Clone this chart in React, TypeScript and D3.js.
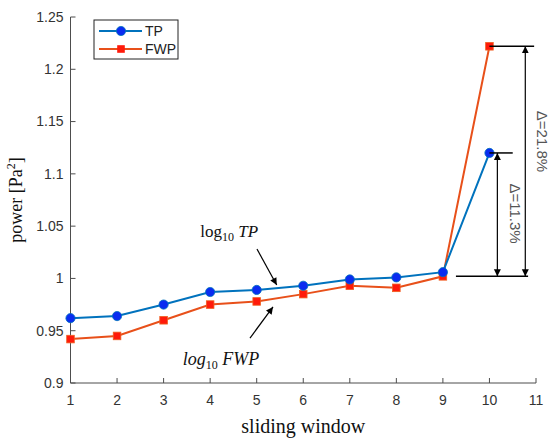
import React from 'react';
import * as d3 from 'd3';

// sliding window index and the two power series
const windows = [1, 2, 3, 4, 5, 6, 7, 8, 9, 10];
const tpValues = [0.962, 0.964, 0.975, 0.987, 0.989, 0.993, 0.999, 1.001, 1.006, 1.120];
const fwpValues = [0.942, 0.945, 0.960, 0.975, 0.978, 0.985, 0.993, 0.991, 1.002, 1.222];
const xTicks = [1, 2, 3, 4, 5, 6, 7, 8, 9, 10, 11];
const yTicks = [0.9, 0.95, 1, 1.05, 1.1, 1.15, 1.2, 1.25];
const seriesNames = ['TP', 'FWP'];
const deltaLabels = ['Δ=11.3%', 'Δ=21.8%'];

const width = 550;
const height = 445;
const margin = { top: 17, right: 14, bottom: 62, left: 70.5 };

const TP_LINE = '#0072BD';
const TP_MARK = '#0a2cf0';
const FWP_LINE = '#E8501A';
const FWP_MARK = '#ff1a0a';
const AXIS = '#4d4d4d';
const TICK_TEXT = '#333';

export default function App() {
    const x = d3.scaleLinear().domain([1, 11]).range([margin.left, width - margin.right]);
    const y = d3.scaleLinear().domain([0.9, 1.25]).range([height - margin.bottom, margin.top]);
    const fmt = d3.format('~g');

    const line = d3.line<number>()
        .x((_, i) => x(windows[i]))
        .y(d => y(d));

    const baseY = y(fwpValues[8]);
    const tpTop = y(tpValues[9]);
    const fwpTop = y(fwpValues[9]);

    return (
        <div style={{ position: 'absolute', left: 0, top: 0 }}>
            <svg width={width} height={height} style={{ display: 'block', background: '#fff' }}>
                <defs>
                    <marker id="head" viewBox="0 0 10 10" refX="10" refY="5"
                        markerWidth="7" markerHeight="8" markerUnits="userSpaceOnUse"
                        orient="auto-start-reverse">
                        <path d="M0,0 L10,5 L0,10 Z" fill="#000" />
                    </marker>
                    <marker id="head2" viewBox="0 0 10 10" refX="10" refY="5"
                        markerWidth="9" markerHeight="7" markerUnits="userSpaceOnUse"
                        orient="auto-start-reverse">
                        <path d="M0,0 L10,5 L0,10 Z" fill="#000" />
                    </marker>
                </defs>

                {/* axes */}
                <line x1={margin.left} x2={margin.left} y1={margin.top} y2={height - margin.bottom} stroke={AXIS} strokeWidth={1} />
                <line x1={margin.left} x2={width - margin.right} y1={height - margin.bottom} y2={height - margin.bottom} stroke={AXIS} strokeWidth={1} />

                {yTicks.map(t => (
                    <g key={'y' + t}>
                        <line x1={margin.left} x2={margin.left + 5} y1={y(t)} y2={y(t)} stroke={AXIS} />
                        <text x={margin.left - 7} y={y(t)} dy="0.35em" textAnchor="end"
                            fontFamily="Liberation Sans, Arial, sans-serif" fontSize={14} fill={TICK_TEXT}>{fmt(t)}</text>
                    </g>
                ))}
                {xTicks.map(t => (
                    <g key={'x' + t}>
                        <line x1={x(t)} x2={x(t)} y1={height - margin.bottom} y2={height - margin.bottom - 5} stroke={AXIS} />
                        <text x={x(t)} y={height - margin.bottom + 22} textAnchor="middle"
                            fontFamily="Liberation Sans, Arial, sans-serif" fontSize={14} fill={TICK_TEXT}>{t}</text>
                    </g>
                ))}

                <text transform={`translate(22,${(margin.top + height - margin.bottom) / 2}) rotate(-90)`}
                    textAnchor="middle" fontFamily="Liberation Serif, Times New Roman, serif" fontSize={18} fill="#111">
                    power [Pa<tspan dy="-7" fontSize={12}>2</tspan><tspan dy="7">]</tspan>
                </text>
                <text x={(margin.left + width - margin.right) / 2} y={433} textAnchor="middle"
                    fontFamily="Liberation Serif, Times New Roman, serif" fontSize={20} fill="#111">sliding window</text>

                {/* series */}
                <path d={line(fwpValues) ?? ''} fill="none" stroke={FWP_LINE} strokeWidth={2} />
                <path d={line(tpValues) ?? ''} fill="none" stroke={TP_LINE} strokeWidth={2} />
                {fwpValues.map((v, i) => (
                    <rect key={'f' + i} x={x(windows[i]) - 3.8} y={y(v) - 3.8} width={7.6} height={7.6}
                        fill={FWP_MARK} stroke="#f06020" strokeWidth={0.8} />
                ))}
                {tpValues.map((v, i) => (
                    <circle key={'t' + i} cx={x(windows[i])} cy={y(v)} r={4.6} fill={TP_MARK} stroke={TP_LINE} strokeWidth={0.8} />
                ))}

                {/* delta annotations */}
                <line x1={x(9.28)} x2={x(10.83)} y1={baseY} y2={baseY} stroke="#000" strokeWidth={1.5} />
                <line x1={x(10)} x2={x(10.5)} y1={tpTop} y2={tpTop} stroke="#000" strokeWidth={1.5} />
                <line x1={x(10)} x2={x(10.96)} y1={fwpTop} y2={fwpTop} stroke="#000" strokeWidth={1.5} />
                <line x1={x(10.17)} x2={x(10.17)} y1={tpTop} y2={baseY} stroke="#000" strokeWidth={1.2}
                    markerStart="url(#head)" markerEnd="url(#head)" />
                <line x1={x(10.77)} x2={x(10.77)} y1={fwpTop} y2={baseY} stroke="#000" strokeWidth={1.2}
                    markerStart="url(#head)" markerEnd="url(#head)" />
                <text transform={`translate(${x(10.44)},${y(1.062)}) rotate(90)`} textAnchor="middle"
                    fontFamily="Liberation Sans, Arial, sans-serif" fontSize={15} fill="#555">{deltaLabels[0]}</text>
                <text transform={`translate(${x(11.03)},${y(1.131)}) rotate(90)`} textAnchor="middle"
                    fontFamily="Liberation Sans, Arial, sans-serif" fontSize={15} fill="#555">{deltaLabels[1]}</text>

                {/* log10 labels with pointers */}
                <text x={x(3.79)} y={y(1.0399)} fontFamily="Liberation Serif, Times New Roman, serif" fontSize={17} fill="#111">
                    log<tspan dy="4" fontSize={12}>10</tspan><tspan dy="-4" fontStyle="italic"> TP</tspan>
                </text>
                <line x1={x(5.006)} y1={y(1.0281)} x2={x(5.43)} y2={y(0.9937)} stroke="#000" strokeWidth={1.2} markerEnd="url(#head2)" />
                <text x={x(3.41)} y={y(0.917)} fontFamily="Liberation Serif, Times New Roman, serif" fontSize={18} fill="#111">
                    <tspan fontStyle="italic">log</tspan><tspan dy="4" fontSize={12}>10</tspan><tspan dy="-4" fontStyle="italic"> FWP</tspan>
                </text>
                <line x1={x(4.856)} y1={y(0.943)} x2={x(5.35)} y2={y(0.9727)} stroke="#000" strokeWidth={1.2} markerEnd="url(#head2)" />

                {/* legend */}
                <g transform="translate(94,20)">
                    <rect width={84} height={39} fill="#fff" stroke="#222" strokeWidth={1} />
                    {seriesNames.map((name, i) => {
                        const cy = 11 + i * 18;
                        const isTp = i === 0;
                        return (
                            <g key={name}>
                                <line x1={5} x2={48} y1={cy} y2={cy} stroke={isTp ? TP_LINE : FWP_LINE} strokeWidth={2} />
                                {isTp
                                    ? <circle cx={27} cy={cy} r={4.6} fill={TP_MARK} stroke={TP_LINE} strokeWidth={0.8} />
                                    : <rect x={23.2} y={cy - 3.8} width={7.6} height={7.6} fill={FWP_MARK} />}
                                <text x={51} y={cy} dy="0.36em" fontFamily="Liberation Sans, Arial, sans-serif" fontSize={14} fill="#222">{name}</text>
                            </g>
                        );
                    })}
                </g>
            </svg>
        </div>
    );
}
